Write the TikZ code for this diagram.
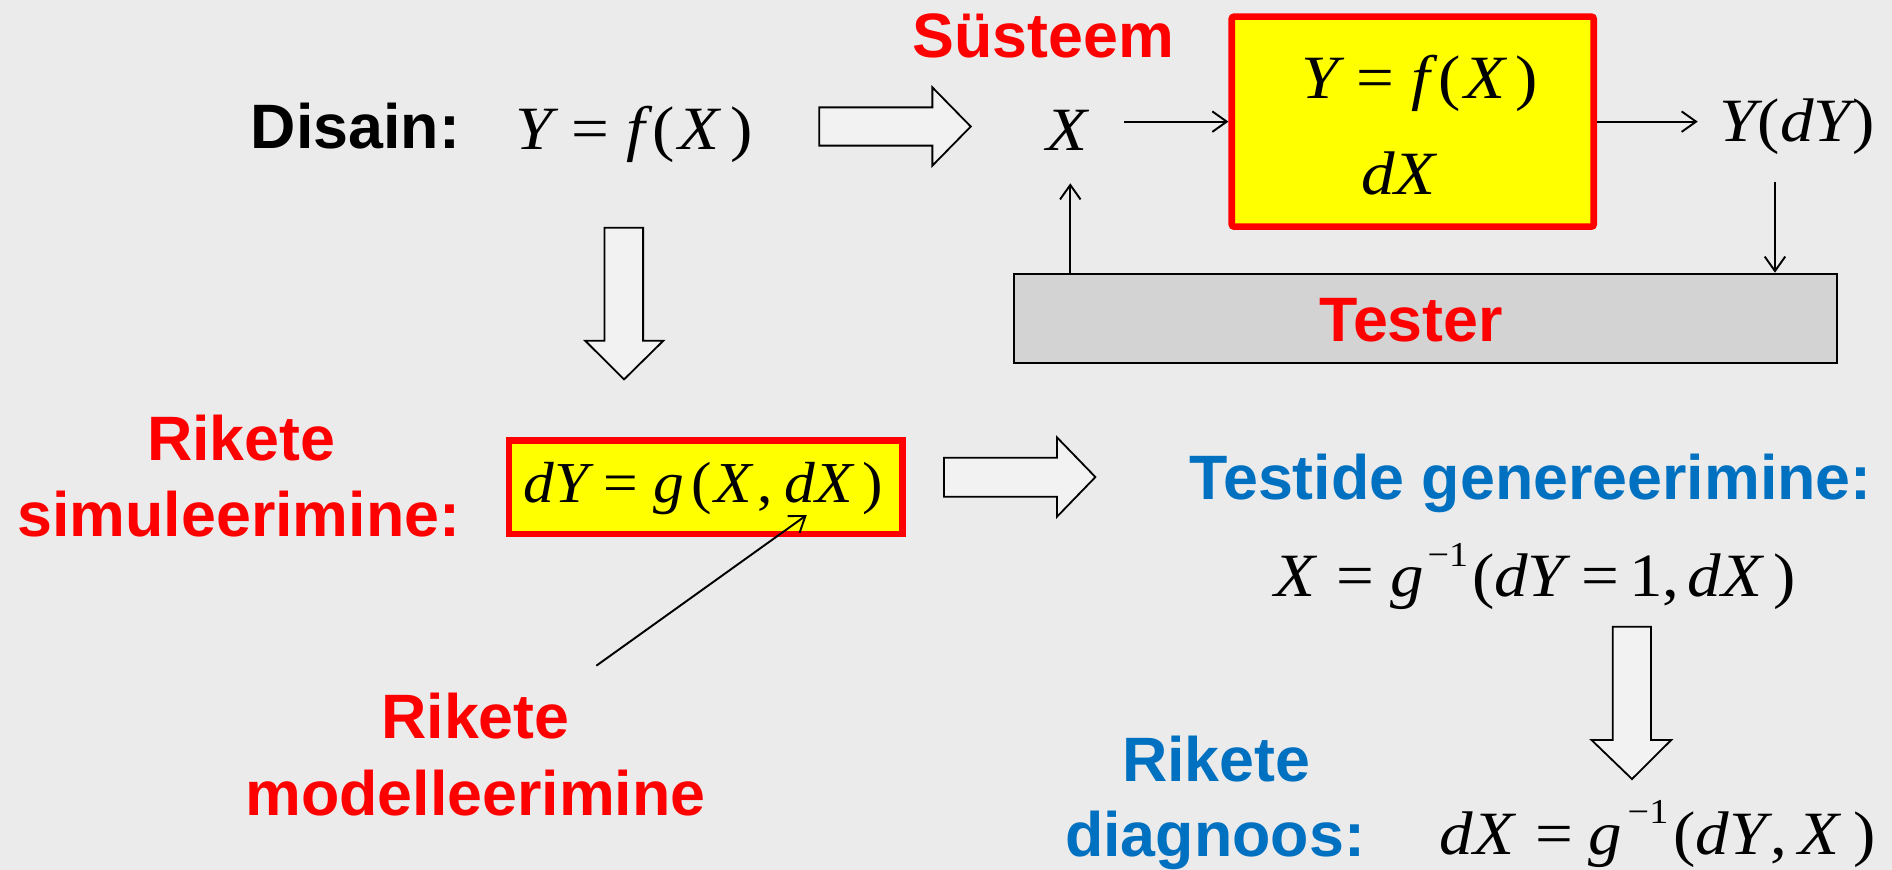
\documentclass[tikz,border=0pt]{standalone}
\usepackage{graphicx}
\usepackage{fontspec}
\setmainfont{Liberation Sans}
\newfontfamily\tnr{Liberation Serif}
\usetikzlibrary{arrows.meta}
\definecolor{bg}{HTML}{EBEBEB}
\definecolor{rd}{HTML}{FF0000}
\definecolor{bl}{HTML}{0070C0}
\definecolor{yl}{HTML}{FFFF00}
\definecolor{tg}{HTML}{D3D3D3}
\definecolor{af}{HTML}{F2F2F2}
\newcommand\mi[1]{{\tnr\itshape #1}}
\newcommand\mr[1]{{\tnr #1}}
\newcommand\hs[1]{\hspace{#1pt}}
\newcommand\supm{\raisebox{25pt}{\fontsize{29}{29}\selectfont\mr{−1}}}
\newcommand\fxs[2]{\scalebox{#1}[1]{#2}}
\newcommand\yfx{\fxs{1.09}{\mi{Y}\hs{14}\mr{=}\hs{13}\mi{f}\hs{6}\mr{(}\hs{3}\mi{X}\hs{8}\mr{)}}}
\begin{document}
\begin{tikzpicture}[x=1pt,y=-1pt,
  lbl/.style={inner sep=0pt,font=\fontsize{52}{62}\selectfont\bfseries},
  redlbl/.style={lbl,text=rd},
  bluelbl/.style={lbl,text=bl},
  formula/.style={inner sep=0pt,font=\fontsize{51}{60}\selectfont},
  ybox/.style={draw=rd,fill=yl,line width=5.5pt,inner sep=0pt},
  thin/.style={line width=1.6pt,-{Straight Barb[length=12pt,width=17pt]}},
  blockarrow/.style={draw=black,fill=af,line width=1.5pt,line join=miter}
]
\fill[bg] (0,0) rectangle (1568,721);
\useasboundingbox (0,0) rectangle (1568,721);

% top left
\node[lbl,anchor=base west] (disain) at (207.7,123) {Disain:};
\node[formula,anchor=base west] (fx) at (427,123.8) {\yfx};
\draw[blockarrow] (679,89) -- (772.7,89) -- (772.7,72.4) -- (804.5,104.85) -- (772.7,137.3) -- (772.7,120.7) -- (679,120.7) -- cycle;
\draw[blockarrow] (501,188.7) -- (533,188.7) -- (533,282.4) -- (549.7,282.4) -- (517.2,314.4) -- (485,282.4) -- (501,282.4) -- cycle;

% system
\node[redlbl,anchor=base west] (sys) at (756,48) {Süsteem};
\node[formula,anchor=base west] (xin) at (867,125) {\fxs{1.09}{\mi{X}}};
\node[ybox,minimum width=300pt,minimum height=174pt,rounded corners=2pt] (box1) at (1170.8,100.8) {};
\node[formula,anchor=base west] (box1f) at (1078,81.5) {\yfx};
\node[formula,anchor=base west] (box1dx) at (1128,161.6) {\fxs{1.09}{\mi{dX}}};
\node[formula,anchor=base west] (yout) at (1424.6,117.4) {\fxs{1.09}{\mi{Y}\hs{1}\mr{(}\mi{dY}\hs{1}\mr{)}}};
\node[draw,fill=tg,line width=1.5pt,minimum width=682.3pt,minimum height=74.2pt,inner sep=0pt] (tester) at (1181.5,263.85) {};
\node[redlbl,anchor=base] (testerl) at (1169.5,283) {Tester};

\coordinate (xa) at (931.6,100.8);
\coordinate (ya) at (1407,100.8);
\coordinate (yt) at (1471,150.6);
\coordinate (xt) at (887,151.9);
\draw[thin] (xa) -- (box1.west);
\draw[thin] (box1.east) -- (ya);
\draw[thin] (yt) -- (yt |- tester.north);
\draw[thin] (xt |- tester.north) -- (xt);

% middle left
\node[redlbl,anchor=base] (rs1) at (200,382) {Rikete};
\node[redlbl,anchor=base] (rs2) at (198,445) {simuleerimine:};
\node[ybox,minimum width=326pt,minimum height=77.3pt] (box2) at (584.75,403.9) {};
\node[formula,font=\fontsize{48}{56}\selectfont,anchor=base west] (gf) at (433.5,416.6) {\fxs{1.06}{\mi{dY}\hs{12}\mr{=}\hs{12}\mi{g}\hs{6}\mr{(}\hs{2}\mi{X}\hs{4}\mr{,}\hs{9}\mi{dX}\hs{8}\mr{)}}};
\draw[blockarrow] (782.3,379.3) -- (876,379.3) -- (876,362.5) -- (907.8,395.35) -- (876,428.2) -- (876,411.6) -- (782.3,411.6) -- cycle;

\coordinate (pa) at (494.2,551.7);
\coordinate (pb) at (668.6,426.8);
\draw[thin] (pa) -- (pb);
\node[redlbl,anchor=base] (rm1) at (394,612) {Rikete};
\node[redlbl,anchor=base] (rm2) at (394,675.5) {modelleerimine};

% right bottom
\node[bluelbl,anchor=base] (tgen) at (1268.5,413.8) {Testide genereerimine:};
\node[formula,anchor=base west] (xg) at (1056,494.5) {\fxs{1.09}{\mi{X}\hs{16}\mr{=}\hs{12}\mi{g}\hs{3}\supm\hs{3}\mr{(}\mi{dY}\hs{12}\mr{=}\hs{8}\mr{1,}\hs{6}\mi{dX}\hs{9}\mr{)}}};
\draw[blockarrow] (1336.6,519.4) -- (1368.3,519.4) -- (1368.3,613.3) -- (1385,613.3) -- (1352.5,645.6) -- (1319,613.3) -- (1336.6,613.3) -- cycle;
\node[bluelbl,anchor=base] (rd1) at (1008,647.8) {Rikete};
\node[bluelbl,anchor=base] (rd2) at (1007,710) {diagnoos:};
\node[formula,anchor=base west] (dg) at (1193,707.8) {\fxs{1.09}{\mi{dX}\hs{16}\mr{=}\hs{12}\mi{g}\hs{4}\supm\hs{4}\mr{(}\mi{dY}\hs{3}\mr{,}\hs{8}\mi{X}\hs{11}\mr{)}}};
\end{tikzpicture}
\end{document}
